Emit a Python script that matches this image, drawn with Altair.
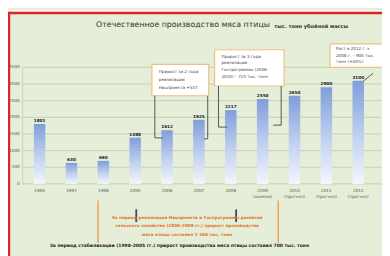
import altair as alt
import pandas as pd

# ---- data ----
years = ["1990", "1997", "1998", "2005", "2006", "2007", "2008",
         "2009|(оценка)", "2010|(прогноз)", "2011|(прогноз)", "2012|(прогноз)"]
values = [1801, 630, 690, 1388, 1612, 1925, 2217, 2550, 2650, 2900, 3100]
y_ticks = [0, 500, 1000, 1500, 2000, 2500, 3000, 3500]

title_main = "Отечественное производство  мяса птицы"
title_unit = "тыс. тонн убойной массы"
box1_text = "Прирост за 2 года\nреализации\nНацпроекта +537"
box2_text = "Прирост за 3 года\nреализации\nГоспрограммы (2008-\n2010) – 725 тыс. тонн"
box3_text = "Рост в 2012 г. к\n2008 г. – 900 тыс.\nтонн (+40%)"
orange_text = ("За период реализации Нацпроекта и Госпрограммы развития\n"
               "сельского хозяйства (2006-2009 гг.) прирост производства\n"
               "мяса птицы составил 1 160 тыс. тонн")
bottom_text = ("За период стабилизации (1998-2005 гг.) прирост производства мяса птицы составил 700 тыс. тонн")

df = pd.DataFrame({"year": years, "value": values,
                   "label": [str(v) for v in values]})
ticks_df = pd.DataFrame({"value": y_ticks, "tl": [str(t) for t in y_ticks]})

# ---- layout ----
L, T, W, H = 16, 58, 358, 119
R = 382 - L - W
B = 248 - T - H
OX, OY = 8 + L, 8 + T  # page position of plot origin

BG = "#e5eed8"
FONT = "DejaVu Sans"
one = pd.DataFrame({"k": [0]})


def X(px):
    return alt.value(px - OX)


def Y(py):
    return alt.value(py - OY)


def seg(x1, y1, x2, y2, color="#555555", w=1.0):
    return alt.Chart(one).mark_rule(color=color, strokeWidth=w).encode(
        x=X(x1), y=Y(y1), x2=X(x2), y2=Y(y2))


def rect(x1, y1, x2, y2, fill, stroke=None, sw=0):
    kw = dict(fill=fill)
    if stroke:
        kw.update(stroke=stroke, strokeWidth=sw)
    return alt.Chart(one).mark_rect(**kw).encode(
        x=X(x1), x2=X(x2), y=Y(y1), y2=Y(y2))


def txt(x, y, s, size, color="#333333", align="left", weight="normal", lh=None):
    kw = dict(text=s, lineBreak="\n", align=align, baseline="middle",
              fontSize=size, color=color, font=FONT, fontWeight=weight)
    if lh:
        kw["lineHeight"] = lh
    return alt.Chart(one).mark_text(**kw).encode(x=X(x), y=Y(y))


grad = alt.Gradient(
    gradient="linear",
    stops=[alt.GradientStop(color="#7f9edb", offset=0),
           alt.GradientStop(color="#c3d2f0", offset=0.55),
           alt.GradientStop(color="#f3f6fc", offset=1)],
    x1=0, x2=0, y1=0, y2=1)

yscale = alt.Scale(domain=[0, 3500], nice=False)

xenc = alt.X("year:N", sort=None,
             scale=alt.Scale(paddingInner=0.64, paddingOuter=0.32),
             axis=alt.Axis(title=None, labelAngle=0,
                           labelExpr="split(datum.label, '|')",
                           labelFontSize=4.3, labelColor="#555555",
                           labelFont=FONT, labelLineHeight=6,
                           ticks=False, domain=False, labelPadding=5,
                           grid=False))

grid = alt.Chart(ticks_df).mark_rule(color="#bccb9f", strokeWidth=0.8).encode(
    y=alt.Y("value:Q", scale=yscale, axis=None),
    x=alt.value(-1), x2=alt.value(W + R))
vline = seg(OX - 1, OY, OX - 1, OY + H, "#c4d2a8", 0.8)
ylabels = alt.Chart(ticks_df).mark_text(
    align="right", baseline="middle", fontSize=4.3, color="#555555",
    font=FONT).encode(y=alt.Y("value:Q", scale=yscale, axis=None),
                      x=alt.value(-4), text="tl:N")

bars = alt.Chart(df).mark_bar(color=grad).encode(
    x=xenc, y=alt.Y("value:Q", scale=yscale, axis=None))
labels = alt.Chart(df).mark_text(dy=-3, fontSize=4.3, fontWeight="bold",
                                 color="#222233", font=FONT).encode(
    x=alt.X("year:N", sort=None),
    y=alt.Y("value:Q", scale=yscale, axis=None), text="label:N")

layers = [
    # frame
    rect(8, 8, 400, 9.3, "white"),
    seg(8, 10.5, 400, 10.5, "#e02424", 2.5),
    seg(9, 9.3, 9, 260, "#e02424", 2.5),
    # title
    txt(98, 23, title_main, 8, "#333333"),
    txt(280, 24, title_unit, 5.2, "#333333", weight="bold"),
    grid, vline, ylabels,
    bars, labels,
    # annotation boxes
    rect(155, 63, 213, 95, "white", "#f0c080", 1.2),
    txt(162, 71, box1_text, 4.2, "#444444", lh=8),
    rect(219, 48, 290, 85, "white", "#f0c080", 1.2),
    txt(226, 55, box2_text, 4.2, "#444444", lh=7),
    rect(337, 42, 400, 66, "white", "#f0c080", 1.2),
    txt(343, 47, box3_text, 4.2, "#444444", lh=7),
    # connectors
    seg(158, 95, 158, 138), seg(158, 138, 166, 138),
    seg(212, 95, 212, 139), seg(212, 139, 208, 139),
    seg(223, 85, 223, 127), seg(223, 127, 232, 127),
    seg(287, 85, 287, 125), seg(287, 125, 279, 125),
    seg(381, 72, 371, 80),
    # bottom annotations
    seg(100, 202, 100, 245, "#f0a050", 1.5),
    seg(284, 202, 284, 245, "#f0a050", 1.5),
    seg(139, 211, 139, 224, "#444455", 1.8),
    seg(241, 211, 241, 224, "#444455", 1.8),
    txt(191, 220, orange_text, 4.3, "#e8702a", align="center", weight="bold", lh=8.5),
    txt(183, 248, bottom_text, 4.6, "#222222", align="center", weight="bold"),
]

chart = alt.layer(*layers).properties(
    width=W, height=H,
    autosize=alt.AutoSizeParams(type="none"),
    padding={"left": L, "top": T, "right": R, "bottom": B},
    background=BG,
).configure_view(strokeWidth=0)

chart.save("out.html", embed_options={"renderer": "svg", "actions": False})
